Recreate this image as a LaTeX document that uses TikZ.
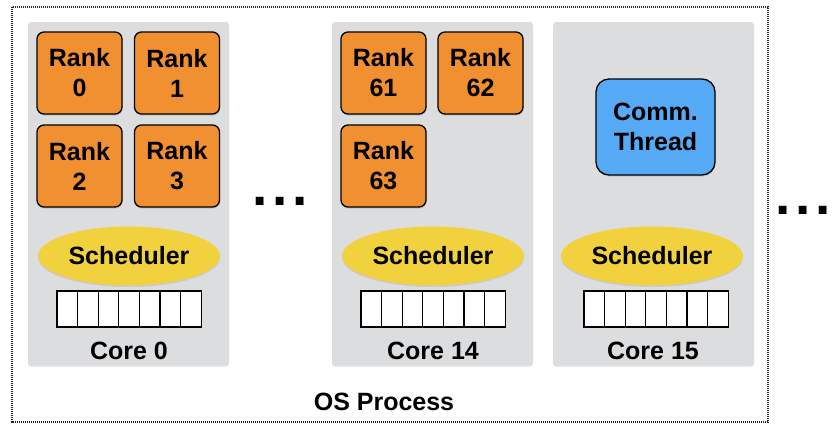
\documentclass[tikz,border=0pt]{standalone}
\usepackage{fontspec}
\setmainfont{Liberation Sans}
\usetikzlibrary{shapes.geometric,shadows}

\definecolor{panelgray}{RGB}{220,221,223}
\definecolor{rankorange}{RGB}{240,144,48}
\definecolor{commblue}{RGB}{86,170,245}
\definecolor{schedyellow}{RGB}{242,209,62}

\tikzset{
	core/.style={fill=panelgray, rounded corners=3pt, minimum width=201pt, minimum height=343pt,
		drop shadow={shadow xshift=0pt, shadow yshift=-1.5pt, opacity=0.25}},
	rankbox/.style={draw=black, line width=1.3pt, fill=rankorange, rounded corners=7pt,
		minimum width=85pt, minimum height=82pt, align=center, inner sep=0pt,
		drop shadow={shadow xshift=0.5pt, shadow yshift=-1.5pt, opacity=0.3}},
	commbox/.style={draw=black, line width=1.3pt, fill=commblue, rounded corners=13pt,
		minimum width=119pt, minimum height=96pt, align=center, inner sep=0pt,
		drop shadow={shadow xshift=0.5pt, shadow yshift=-1.5pt, opacity=0.3}},
	sched/.style={ellipse, fill=schedyellow, minimum width=182pt, minimum height=59pt, inner sep=0pt,
		drop shadow={shadow xshift=0pt, shadow yshift=-1.5pt, opacity=0.2}},
	cell/.style={draw=black, line width=1.3pt, fill=white, minimum width=20.6pt, minimum height=36pt,
		inner sep=0pt, drop shadow={shadow xshift=0.5pt, shadow yshift=-1pt, opacity=0.3}},
	lbl/.style={inner sep=0pt},
	dots/.style={inner sep=0pt, anchor=base, font=\fontsize{55pt}{55pt}\selectfont\bfseries}
}

\begin{document}
\begin{tikzpicture}[x=1pt, y=-1pt, font=\fontsize{25pt}{30pt}\selectfont\bfseries]
	\useasboundingbox (0,0) rectangle (833,424);
	% process frame
	\draw[line width=1.3pt, black!85, dash pattern=on 1.1pt off 0.9pt] (12,7) rectangle (768,422);
	\node[lbl] (os) at (384,402) {OS Process};

	% cores
	\node[core] (c0) at (128.5,193.5) {};
	\node[core] (c14) at (432.5,193.5) {};
	\node[core] (c15) at (653.5,193.5) {};

	\node[rankbox] (r0) at (79.5,73) {Rank\\0};
	\node[rankbox] (r1) at (177,73) {Rank\\1};
	\node[rankbox] (r2) at (79.5,166) {Rank\\2};
	\node[rankbox] (r3) at (177,166) {Rank\\3};

	\node[rankbox] (r61) at (383.5,73) {Rank\\61};
	\node[rankbox] (r62) at (480.5,73) {Rank\\62};
	\node[rankbox] (r63) at (383.5,166) {Rank\\63};

	\node[commbox] (comm) at (655.5,127) {Comm.\\Thread};

	\node[sched] (s0) at (129,256) {Scheduler};
	\node[sched] (s14) at (433,256) {Scheduler};
	\node[sched] (s15) at (652,256) {Scheduler};

	% run queues
	\foreach \i in {0,...,6} {
		\node[cell] (q0-\i) at (67.3+20.6*\i,309) {};
		\node[cell] (q14-\i) at (371.3+20.6*\i,309) {};
		\node[cell] (q15-\i) at (594.3+20.6*\i,309) {};
	}

	\node[lbl] (l0) at (129,351) {Core 0};
	\node[lbl] (l14) at (433,351) {Core 14};
	\node[lbl] (l15) at (653,351) {Core 15};

	\node[dots] (d1) at (280,205.5) {.\kern4.7pt.\kern4.7pt.};
	\node[dots] (d2) at (803,214.5) {.\kern4.7pt.\kern4.7pt.};
\end{tikzpicture}
\end{document}
